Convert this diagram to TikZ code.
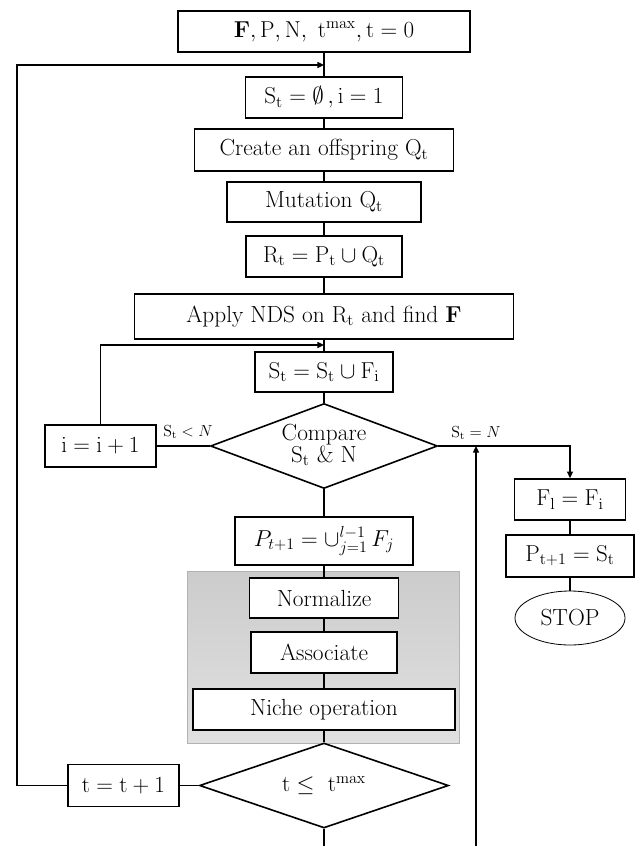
\documentclass[tikz,border=0pt]{standalone}
\usetikzlibrary{shapes.geometric,arrows.meta}
\tikzset{
  procbox/.style={draw, line width=1.2pt, fill=white, inner sep=2pt, minimum height=30.75pt},
  decision/.style={draw, diamond, line width=1.2pt, fill=white, inner sep=0pt, aspect=2.6},
  stopnode/.style={draw, ellipse, line width=0.6pt, fill=white, inner sep=0pt},
  lbl/.style={font=\fontsize{12}{14}\selectfont, inner sep=0pt},
  link/.style={line width=1pt},
  arr/.style={line width=1pt, -{Triangle[length=5pt,width=4.5pt]}}
}
\begin{document}
\begin{tikzpicture}[x=0.75pt,y=-0.75pt,font=\fontsize{17.5}{20}\selectfont]
\useasboundingbox (0,0) rectangle (635,846);
%Gray block
\draw [black!30, line width=0.6pt, top color=black!20, bottom color=black!12] (187,571) rectangle (459,743);
%Main column
\node [procbox, minimum width=219pt] (init) at (324,31.5) {$\mathbf{F},\mathrm{P},\mathrm{N},\ \mathrm{t}^{\mathrm{max}},\mathrm{t}=0$};
\node [procbox, minimum width=117.75pt] (st0) at (324,97.5) {$\mathrm{S_t}=\emptyset\,,\mathrm{i}=1$};
\node [procbox, minimum width=194.25pt, minimum height=31.5pt] (offspring) at (324,150) {Create an offspring $\mathrm{Q_t}$};
\node [procbox, minimum width=145.5pt, minimum height=30pt] (mutation) at (324,202) {Mutation $\mathrm{Q_t}$};
\node [procbox, minimum width=117pt] (rt) at (324,256.5) {$\mathrm{R_t}=\mathrm{P_t}\cup\mathrm{Q_t}$};
\node [procbox, minimum width=284.25pt, minimum height=33.75pt] (nds) at (324,316.5) {Apply NDS on $\mathrm{R_t}$ and find $\mathbf{F}$};
\node [procbox, minimum width=103.5pt, minimum height=30pt] (union) at (324,372) {$\mathrm{S_t}=\mathrm{S_t}\cup\mathrm{F_i}$};
\node [decision, aspect=2.8, minimum width=170.25pt, minimum height=63.75pt] (compare) at (324,446) {\begin{tabular}{@{}c@{}}Compare\\[-4pt] $\mathrm{S_t}$ \& N\end{tabular}};
\node [procbox, minimum width=83.25pt, minimum height=31.5pt] (inc) at (100.5,446) {$\mathrm{i}=\mathrm{i}+1$};
\node [procbox, minimum width=133.5pt, minimum height=36pt] (pnext) at (324,541) {$P_{t+1} =\cup_{j=1}^{l-1}\, F_j$};
\node [procbox, minimum width=111.75pt, minimum height=30pt] (normalize) at (324,598) {Normalize};
\node [procbox, minimum width=109.5pt] (associate) at (324,652.5) {Associate};
\node [procbox, minimum width=196.5pt] (niche) at (324,709.5) {Niche operation};
\node [decision, minimum width=186.75pt, minimum height=63.75pt] (tcheck) at (324,785.5) {$\mathrm{t}\leq\ \mathrm{t}^{\mathrm{max}}$};
\node [procbox, minimum width=83.25pt, minimum height=31.5pt] (tinc) at (123.5,785.5) {$\mathrm{t}=\mathrm{t}+1$};
%Right column
\node [procbox, minimum width=83.25pt] (fl) at (570,499.5) {$\mathrm{F_l}=\mathrm{F_i}$};
\node [procbox, minimum width=96pt, minimum height=31.5pt] (pst) at (570,556) {$\mathrm{P_{t+1}}=\mathrm{S_t}$};
\node [stopnode, minimum width=82.5pt, minimum height=40.5pt] (stop) at (570,618) {STOP};
%Labels
\node [lbl] (lless) at (188,432) {$\mathrm{S_t} < N$};
\node [lbl] (leq) at (476,433) {$\mathrm{S_t} = N$};
%Turning points
\coordinate (loopA) at (17,65);
\coordinate (joinA) at (324,65);
\coordinate (joinB) at (324,345);
\coordinate (endA) at (324,852);
\coordinate (upA) at (476,852);
\coordinate (upB) at (476,446);
%Connectors
\draw [link] (init) -- (st0);
\draw [link] (st0) -- (offspring);
\draw [link] (offspring) -- (mutation);
\draw [link] (mutation) -- (rt);
\draw [link] (rt) -- (nds);
\draw [link] (nds) -- (union);
\draw [link] (union) -- (compare);
\draw [link] (compare) -- (pnext);
\draw [link] (pnext) -- (normalize);
\draw [link] (normalize) -- (associate);
\draw [link] (associate) -- (niche);
\draw [link] (niche) -- (tcheck);
\draw [link] (compare.west) -- (inc.east);
\draw [link] (tcheck.west) -- (tinc.east);
\draw [link] (fl) -- (pst);
\draw [link] (pst) -- (stop);
\draw [arr] (tinc.west) -| (loopA) -- (joinA);
\draw [arr] (inc.north) |- (joinB);
\draw [arr] (compare.east) -| (fl.north);
\draw [arr] (tcheck.south) -- (endA) -- (upA) -- (upB);
\end{tikzpicture}
\end{document}
